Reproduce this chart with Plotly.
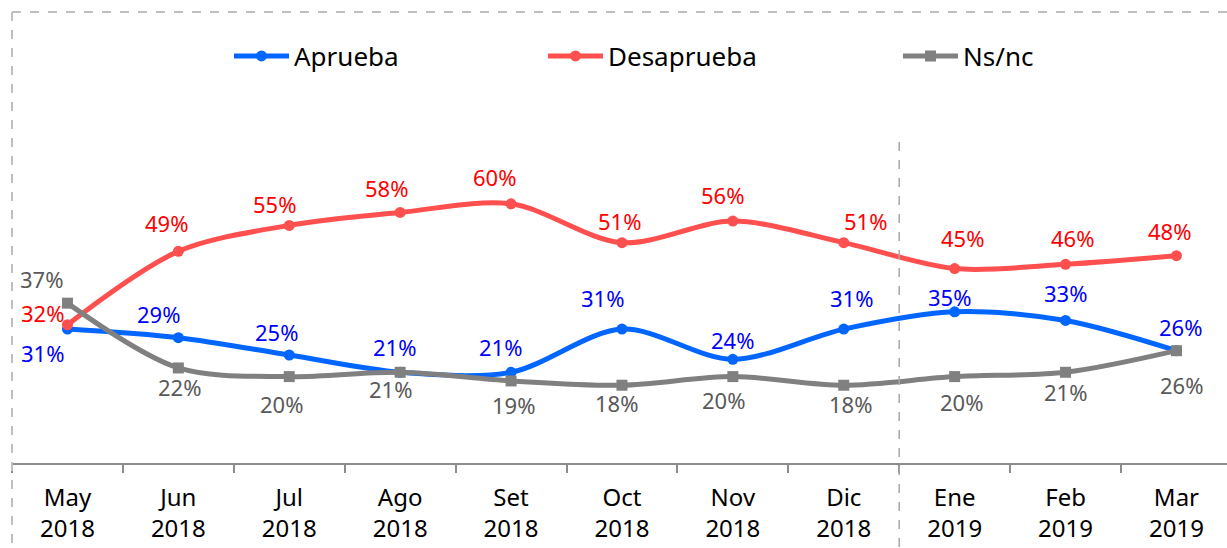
import plotly.graph_objects as go

categories = ["May<br>2018", "Jun<br>2018", "Jul<br>2018", "Ago<br>2018", "Set<br>2018",
              "Oct<br>2018", "Nov<br>2018", "Dic<br>2018", "Ene<br>2019", "Feb<br>2019", "Mar<br>2019"]
aprueba = [31, 29, 25, 21, 21, 31, 24, 31, 35, 33, 26]
desaprueba = [32, 49, 55, 58, 60, 51, 56, 51, 45, 46, 48]
nsnc = [37, 22, 20, 21, 19, 18, 20, 18, 20, 21, 26]

# label offsets (px) — styling only
ap_dx = [-25, -20, -13, -6, -11, -19, 0, 8, -5, 0, 4]
ap_dy = [-24, 24, 23, 25, 25, 31, 19, 31, 15, 27, 24]
de_dx = [-25, -12, -15, -14, -17, -2, -10, 22, 8, 7, -7]
de_dy = [12, 28, 21, 24, 27, 22, 26, 22, 31, 26, 25]
ns_dx = [-26, 1, -8, -10, 2, -5, -9, 7, 7, 0, 5]
ns_dy = [24, -19, -27, -17, -24, -18, -23, -19, -25, -20, -34]

FONT = "Noto Sans"
fig = go.Figure()

series = [
    ("Aprueba", aprueba, "#0066FF", "circle", "#0000FF", ap_dx, ap_dy, "legend"),
    ("Desaprueba", desaprueba, "#FF4F4F", "circle", "#FF0000", de_dx, de_dy, "legend2"),
    ("Ns/nc", nsnc, "#808080", "square", "#595959", ns_dx, ns_dy, "legend3"),
]

for name, vals, lc, sym, tc, dxs, dys, lg in series:
    fig.add_trace(go.Scatter(
        x=categories, y=vals, name=name, mode="lines+markers",
        line=dict(color=lc, width=5, shape="spline", smoothing=0.9),
        marker=dict(color=lc, size=11, symbol=sym),
        legend=lg, cliponaxis=False,
    ))
    for c, v, dx, dy in zip(categories, vals, dxs, dys):
        fig.add_annotation(x=c, y=v, text=f"{v}%", showarrow=False,
                           xshift=dx, yshift=dy,
                           font=dict(family=FONT, size=22, color=tc))

legend_common = dict(orientation="h", xanchor="left", yanchor="middle",
                     font=dict(family=FONT, size=26, color="black"),
                     bgcolor="rgba(0,0,0,0)", itemwidth=55)

H = 548
plot_top, plot_bot = 31, 463
ph = plot_bot - plot_top
W0, PW = 12, 1215

def px_x(p):
    return (p - W0) / PW

def px_y(p):
    return (plot_bot - p) / ph

fig.update_layout(
    width=1227, height=548,
    margin=dict(l=W0, r=0, t=plot_top, b=H - plot_bot, pad=0),
    paper_bgcolor="white", plot_bgcolor="white",
    showlegend=True,
    legend=dict(x=px_x(229), y=px_y(56), **legend_common),
    legend2=dict(x=px_x(543), y=px_y(56), **legend_common),
    legend3=dict(x=px_x(898), y=px_y(56), **legend_common),
    xaxis=dict(
        type="category", range=[-0.5, -0.5 + PW / 110.9],
        showline=True, linecolor="#8C8C8C", linewidth=2,
        ticks="outside", tickson="boundaries", ticklen=8, tickwidth=2, tickcolor="#8C8C8C",
        showgrid=False, zeroline=False, ticklabelstandoff=12,
        tickfont=dict(family=FONT, size=24, color="black"),
    ),
    yaxis=dict(range=[0, 100], visible=False, showgrid=False, zeroline=False),
    shapes=[
        dict(type="line", xref="paper", yref="paper", x0=0, x1=px_x(1240),
             y0=px_y(12), y1=px_y(12), line=dict(color="#BFBFBF", width=2, dash="dash")),
        dict(type="line", xref="paper", yref="paper", x0=0, x1=0,
             y0=px_y(12), y1=px_y(560), line=dict(color="#BFBFBF", width=2, dash="dash")),
        dict(type="line", xref="x", yref="paper", x0=7.5, x1=7.5,
             y0=px_y(142), y1=px_y(560), line=dict(color="#A6A6A6", width=1.5, dash="dash")),
    ],
)

fig.write_html("out.html", config={"displayModeBar": False},
               post_script="document.body.style.margin='0';")
